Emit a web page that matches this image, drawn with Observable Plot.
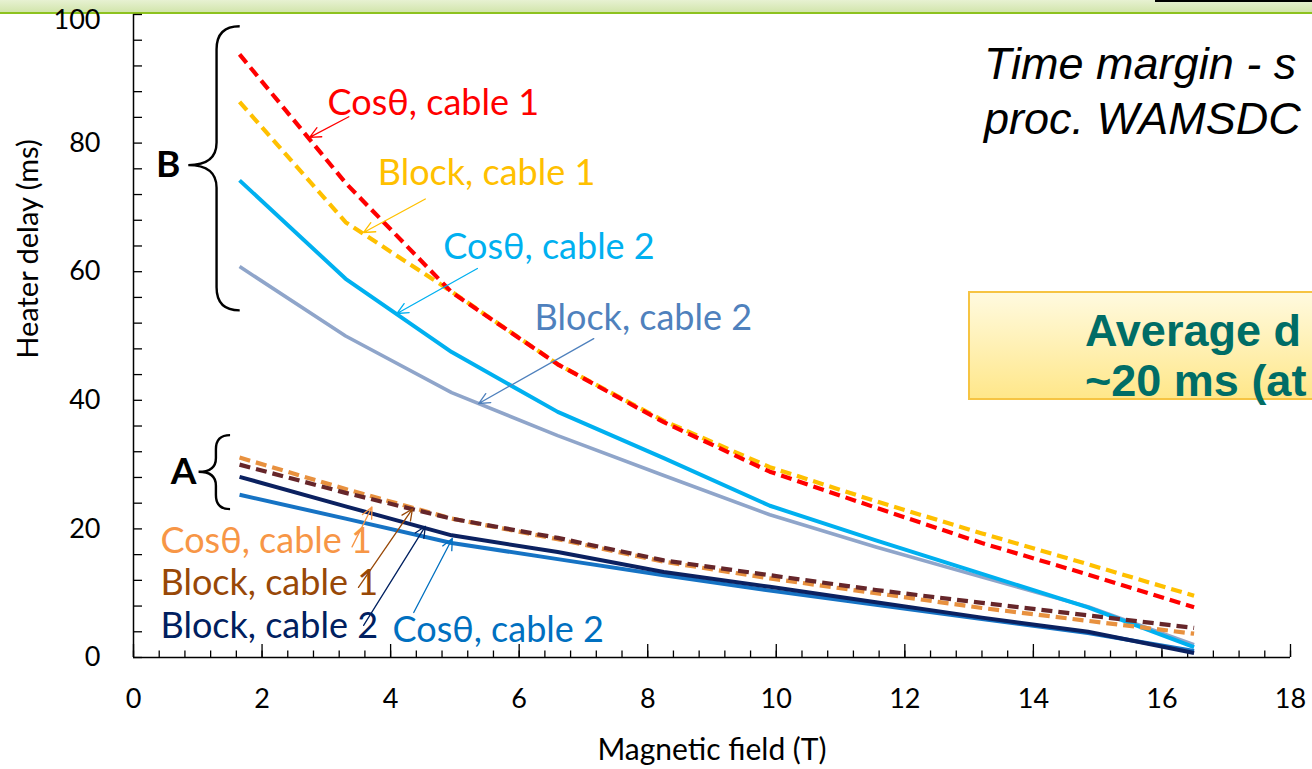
<!DOCTYPE html>
<html>
<head>
<meta charset="utf-8">
<script src="https://cdn.jsdelivr.net/npm/d3@7"></script>
<script src="https://cdn.jsdelivr.net/npm/@observablehq/plot@0.6"></script>
<style>
  body { margin: 0; background: #fff; overflow: hidden; }
  #wrap { position: relative; width: 1312px; height: 769px; overflow: hidden; background: #fff; }
  #chart { position: absolute; left: 0; top: 0; z-index: 5; }
  #header { position: absolute; left: 0; top: 0; width: 1312px; height: 12px;
            background: linear-gradient(#E7F1D2, #D2E5AC); border-bottom: 2px solid #8DC21F; z-index: 3; }
  #blackbar { position: absolute; left: 1155px; top: 0; width: 157px; height: 2px; background: #000; z-index: 4; }
  #note { position: absolute; left: 984px; top: 36px; width: 326px; z-index: 2; white-space: nowrap;
          font: italic 45px/55px "Liberation Sans", Arial, sans-serif; color: #000; }
  #box { position: absolute; left: 968px; top: 291px; width: 344px; height: 109px; z-index: 2;
         background: linear-gradient(#FFFADF, #FFE78A); border: 2px solid #F6C443; border-right: none; box-sizing: border-box; }
  #boxtext { position: absolute; left: 1085px; top: 306px; width: 225px; z-index: 2; white-space: nowrap;
             font: bold 45px/50px "Liberation Sans", Arial, sans-serif; color: #006D66; }
</style>
</head>
<body>
<div id="wrap">
  <div id="header"></div>
  <div id="blackbar"></div>
  <div id="note">Time margin - s<br>proc. WAMSDC</div>
  <div id="box"></div>
  <div id="boxtext">Average d<br>~20 ms (at</div>
  <div id="chart"></div>
</div>
<script>
// ---------- data ----------
const field = [1.65, 3.3, 4.95, 6.6, 8.25, 9.9, 11.55, 13.2, 14.85, 16.5];

const cosCable1B   = [93.8, 73.8, 56.8, 45.6, 36.6, 28.9, 23.3, 17.8, 12.9, 7.8];
const blockCable1B = [86.4, 67.7, 56.9, 45.6, 36.8, 29.6, 24.3, 19.3, 14.5, 9.6];
const cosCable2B   = [74.2, 58.9, 47.5, 38.2, 31.0, 23.6, 18.2, 13.0, 7.8, 1.6];
const blockCable2B = [60.8, 50.0, 41.2, 34.5, 28.3, 22.2, 17.2, 12.5, 7.9, 2.0];

const cosCable1A   = [31.1, 26.2, 21.6, 18.4, 14.9, 12.3, 10.0, 7.7, 5.7, 3.7];
const blockCable1A = [30.0, 25.6, 21.6, 18.6, 15.1, 12.8, 10.5, 8.5, 6.55, 4.6];
const blockCable2A = [28.1, 23.5, 19.0, 16.4, 13.3, 11.0, 8.6, 6.2, 4.0, 0.7];
const cosCable2A   = [25.3, 21.6, 17.8, 15.3, 12.8, 10.4, 8.2, 6.0, 3.8, 1.0];

const xTickLabels = [0, 2, 4, 6, 8, 10, 12, 14, 16, 18];
const yTickLabels = [0, 20, 40, 60, 80];
const yTopLabel = [100];
const xTitle = "Magnetic field (T)";
const yTitle = "Heater delay (ms)";

// series (drawing order) and their styles
const seriesList = [
  {key: "Block, cable 2 (B)", values: blockCable2B, stroke: "#8FA5CA", dash: null, width: 3.6},
  {key: "Cosθ, cable 2 (B)",  values: cosCable2B,   stroke: "#00B0F0", dash: null, width: 4},
  {key: "Block, cable 1 (B)", values: blockCable1B, stroke: "#FFC000", dash: "11,6", width: 4.2},
  {key: "Cosθ, cable 1 (B)",  values: cosCable1B,   stroke: "#FF0000", dash: "11,6", width: 4.2},
  {key: "Cosθ, cable 2 (A)",  values: cosCable2A,   stroke: "#1673C4", dash: null, width: 4},
  {key: "Block, cable 2 (A)", values: blockCable2A, stroke: "#0B2160", dash: null, width: 4},
  {key: "Cosθ, cable 1 (A)",  values: cosCable1A,   stroke: "#E8913F", dash: "11,6", width: 4.2},
  {key: "Block, cable 1 (A)", values: blockCable1A, stroke: "#66262A", dash: "11,6", width: 4.2}
];

// annotation labels with arrows (data coordinates)
const annotations = [
  {label: "Cosθ, cable 1",  color: "#FF0000", tx: 3.02, ty: 86.2, ax1: 3.35, ay1: 84.1, ax2: 2.74, ay2: 80.9},
  {label: "Block, cable 1", color: "#FFC000", tx: 3.80, ty: 75.3, ax1: 4.54, ay1: 71.3, ax2: 3.58, ay2: 66.1},
  {label: "Cosθ, cable 2",  color: "#00B0F0", tx: 4.82, ty: 63.8, ax1: 5.35, ay1: 60.5, ax2: 4.10, ay2: 53.5},
  {label: "Block, cable 2", color: "#4F81BD", tx: 6.24, ty: 52.7, ax1: 7.16, ay1: 49.6, ax2: 5.37, ay2: 39.5},
  {label: "Cosθ, cable 1",  color: "#F79646", tx: 0.42, ty: 18.0, ax1: 3.40, ay1: 17.2, ax2: 3.71, ay2: 23.4},
  {label: "Block, cable 1", color: "#984807", tx: 0.42, ty: 11.5, ax1: 3.50, ay1: 10.9, ax2: 4.34, ay2: 23.1},
  {label: "Block, cable 2", color: "#002060", tx: 0.42, ty: 4.8,  ax1: 3.58, ay1: 5.0,  ax2: 4.54, ay2: 20.4},
  {label: "Cosθ, cable 2",  color: "#0070C0", tx: 4.03, ty: 4.2,  ax1: 4.36, ay1: 7.0,  ax2: 4.96, ay2: 18.5}
];

// group braces (data coordinates)
const braces = [
  {label: "B", yTop: 98.1, yMid: 76.5, yBottom: 53.9, xTip: 0.86, xSpine: 1.30, xHook: 1.66, labelX: 0.54},
  {label: "A", yTop: 34.5, yMid: 28.8, yBottom: 23.0, xTip: 1.02, xSpine: 1.29, xHook: 1.51, labelX: 0.78}
];

// ---------- layout ----------
const W = 1312, H = 769;
const mL = 133, mR = 22, mT = 14, mB = 112;
const plotW = W - mL - mR, plotH = H - mT - mB;

const yMinorTicks = d3.range(0, 101, 4);
const xMinorTicks = d3.range(0, 46).map(i => i * 0.4).filter(v => v <= 18.001);

const rows = seriesList.flatMap(s => field.map((x, i) => ({series: s.key, x, y: s.values[i]})));

function braceMark(b) {
  return (index, scales) => {
    const X = scales.x, Y = scales.y;
    const xt = X(b.xTip), xs = X(b.xSpine), xh = X(b.xHook);
    const yt = Y(b.yTop), ym = Y(b.yMid), yb = Y(b.yBottom);
    const r = xh - xs;
    const r2 = xs - xt;
    const d = `M${xh},${yt} Q${xs},${yt} ${xs},${yt + r} L${xs},${ym - r2 * 0.8} Q${xs},${ym} ${xt},${ym} ` +
              `Q${xs},${ym} ${xs},${ym + r2 * 0.8} L${xs},${yb - r} Q${xs},${yb} ${xh},${yb}`;
    const p = document.createElementNS("http://www.w3.org/2000/svg", "path");
    p.setAttribute("d", d);
    p.setAttribute("fill", "none");
    p.setAttribute("stroke", "#000");
    p.setAttribute("stroke-width", "2.4");
    return p;
  };
}

const marks = [
  // axis lines
  Plot.ruleX([0], {stroke: "#000", strokeWidth: 1.5}),
  Plot.ruleY([0], {stroke: "#000", strokeWidth: 1.5}),
  // inward ticks
  Plot.tickY(yMinorTicks, {y: d => d, stroke: "#000", strokeWidth: 1.3, insetRight: plotW - 9}),
  Plot.tickX(xMinorTicks, {x: d => d, stroke: "#000", strokeWidth: 1.3, insetTop: plotH - 6.5}),
  Plot.tickX(xTickLabels, {x: d => d, stroke: "#000", strokeWidth: 1.3, insetTop: plotH - 13}),
  // tick labels
  Plot.axisY({ticks: yTickLabels, tickSize: 0, tickPadding: 33, fontSize: 27, label: null}),
  Plot.axisY({ticks: yTopLabel, tickSize: 0, tickPadding: 33, fontSize: 27, label: null, dy: 6}),
  Plot.axisX({ticks: xTickLabels, tickSize: 0, tickPadding: 31, fontSize: 27, label: null}),
  // axis titles
  Plot.text([xTitle], {frameAnchor: "bottom", dy: 93, fontSize: 30, text: d => d, textAnchor: "middle", lineAnchor: "middle"}),
  Plot.text([yTitle], {frameAnchor: "left", dx: -105, dy: -87, rotate: -90, fontSize: 29, text: d => d, textAnchor: "middle", lineAnchor: "middle"}),
  // series
  ...seriesList.map(s => Plot.line(rows.filter(r => r.series === s.key), {
    x: "x", y: "y", stroke: s.stroke, strokeWidth: s.width,
    strokeDasharray: s.dash || undefined, strokeLinecap: "butt", strokeLinejoin: "round"
  })),
  // braces
  ...braces.map(b => braceMark(b)),
  Plot.text(braces, {x: "labelX", y: "yMid", text: "label", fontWeight: "bold", fontSize: 37, lineAnchor: "middle"}),
  // annotations
  Plot.arrow(annotations, {x1: "ax1", y1: "ay1", x2: "ax2", y2: "ay2", stroke: "color",
    strokeWidth: 1.3, headLength: 14, headAngle: 50}),
  Plot.text(annotations, {x: "tx", y: "ty", text: "label", fill: "color", textAnchor: "start",
    lineAnchor: "middle", fontSize: 36})
];

const chart = Plot.plot({
  width: W, height: H,
  marginLeft: mL, marginRight: mR, marginTop: mT, marginBottom: mB,
  x: {domain: [0, 18], axis: null},
  y: {domain: [0, 100], axis: null},
  color: {type: "identity"},
  style: {fontFamily: "Lato, 'Open Sans', sans-serif", fontSize: "27px", color: "#000", background: "transparent", overflow: "visible"},
  marks
});
document.getElementById("chart").appendChild(chart);
</script>
</body>
</html>
